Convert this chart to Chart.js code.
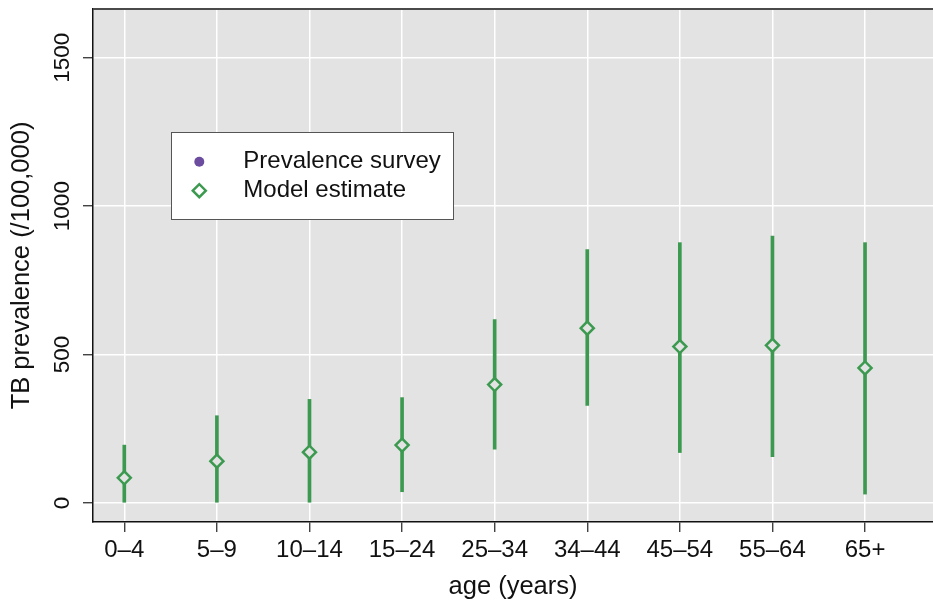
<!DOCTYPE html>
<html>
<head>
<meta charset="utf-8">
<script src="https://cdn.jsdelivr.net/npm/chart.js@4/dist/chart.umd.min.js"></script>
<style>
  html, body { margin: 0; padding: 0; background: #ffffff; }
  canvas { display: block; }
</style>
</head>
<body>
<canvas id="c" width="933" height="606"></canvas>
<script>
// Age groups and model estimates of TB prevalence per 100,000, with uncertainty bounds
const ageGroups = ['0–4', '5–9', '10–14', '15–24', '25–34', '34–44', '45–54', '55–64', '65+'];
const modelEstimate = [85, 141, 171, 195, 399, 589, 527, 531, 455];
const lowerBound = [0, 0, 0, 38, 181, 329, 170, 156, 30];
const upperBound = [195, 294, 349, 355, 618, 854, 877, 899, 877];
const surveyPrevalence = []; // survey points (none plotted for these groups)
const yTickValues = [0, 500, 1000, 1500];

const GREEN = '#3c9a50';
const PURPLE = '#6b4c9f';
const PANEL = '#e3e3e3';
const INK = '#111111';

Chart.defaults.font.family = "'Liberation Sans', Arial, Helvetica, sans-serif";

// grey panel behind the grid, plus the thin frame line along the top
const panel = {
  id: 'panel',
  beforeDraw(chart) {
    const { ctx, chartArea: a } = chart;
    ctx.save();
    ctx.fillStyle = '#ffffff';
    ctx.fillRect(0, 0, chart.width, chart.height);
    ctx.fillStyle = PANEL;
    ctx.fillRect(a.left, a.top, a.right - a.left, a.bottom - a.top);
    ctx.restore();
  },
  afterDraw(chart) {
    const { ctx, chartArea: a } = chart;
    ctx.save();
    ctx.fillStyle = '#4a4a4a';
    ctx.fillRect(a.left, a.top - 1, a.right - a.left, 2);
    ctx.restore();
  }
};

// boxed legend inside the panel, built from the dataset labels and styles
const legendBox = {
  id: 'legendBox',
  afterDatasetsDraw(chart) {
    const ctx = chart.ctx;
    const x0 = 171, y0 = 132, w = 282, h = 87;
    ctx.save();
    ctx.fillStyle = '#ffffff';
    ctx.fillRect(x0, y0, w, h);
    ctx.strokeStyle = '#555555';
    ctx.lineWidth = 1;
    ctx.strokeRect(x0 + 0.5, y0 + 0.5, w, h);
    const entries = chart.data.datasets.filter(d => d.showInLegend);
    entries.forEach((d, i) => {
      const cy = 161.7 + i * 29;
      ctx.save();
      ctx.fillStyle = d.legendFill || d.backgroundColor;
      ctx.strokeStyle = d.borderColor;
      ctx.lineWidth = d.borderWidth || 0;
      Chart.helpers.drawPoint(ctx, {
        pointStyle: d.pointStyle,
        radius: d.legendRadius,
        borderWidth: d.borderWidth || 0
      }, 199.3, cy);
      ctx.restore();
      ctx.fillStyle = INK;
      ctx.font = "24px 'Liberation Sans', Arial, Helvetica, sans-serif";
      ctx.textAlign = 'left';
      ctx.textBaseline = 'middle';
      ctx.fillText(d.label, 243.3, cy);
    });
    ctx.restore();
  }
};

new Chart(document.getElementById('c'), {
  type: 'scatter',
  data: {
    datasets: [
      {
        type: 'scatter',
        label: 'Prevalence survey',
        showInLegend: true,
        data: surveyPrevalence,
        pointStyle: 'circle',
        radius: 5,
        legendRadius: 5,
        backgroundColor: PURPLE,
        borderColor: PURPLE,
        borderWidth: 0,
        order: 0
      },
      {
        type: 'scatter',
        label: 'Model estimate',
        showInLegend: true,
        data: ageGroups.map((g, i) => ({ x: i + 1, y: modelEstimate[i] })),
        pointStyle: 'rectRot',
        radius: 6.5,
        legendRadius: 6.5,
        hoverRadius: 6.5,
        borderWidth: 2.5,
        borderColor: GREEN,
        backgroundColor: PANEL,
        legendFill: '#ffffff',
        order: 1
      },
      {
        type: 'bar',
        label: 'Model range',
        data: ageGroups.map((g, i) => ({ x: i + 1, y: [lowerBound[i], upperBound[i]] })),
        backgroundColor: GREEN,
        borderWidth: 0,
        barThickness: 3,
        order: 2
      }
    ]
  },
  options: {
    responsive: false,
    animation: false,
    devicePixelRatio: 1,
    layout: { autoPadding: false, padding: { top: 9, left: 0, right: 0, bottom: 0 } },
    plugins: {
      legend: { display: false },
      tooltip: { enabled: false }
    },
    scales: {
      x: {
        type: 'linear',
        min: 0.662,
        max: 9.734,
        offset: false,
        afterBuildTicks: s => { s.ticks = ageGroups.map((g, i) => ({ value: i + 1 })); },
        afterFit: s => { s.height = 84; },
        ticks: {
          callback: v => ageGroups[Math.round(v) - 1],
          font: { size: 24 },
          color: INK,
          padding: 4,
          autoSkip: false,
          minRotation: 0,
          maxRotation: 0
        },
        grid: { offset: false, color: '#ffffff', lineWidth: 1.5, tickLength: 10, tickColor: '#222222', tickWidth: 1.2 },
        border: { color: INK, width: 1.5 },
        title: {
          display: true,
          text: 'age (years)',
          font: { size: 25.5 },
          color: INK,
          padding: { top: 0, bottom: 3.7 }
        }
      },
      y: {
        type: 'linear',
        min: -64,
        max: 1664,
        afterBuildTicks: s => { s.ticks = yTickValues.map(v => ({ value: v })); },
        afterFit: s => { s.width = 93; },
        ticks: {
          callback: v => String(v),
          font: { size: 22.5 },
          color: INK,
          minRotation: 90,
          maxRotation: 90,
          crossAlign: 'center',
          padding: -4.5,
          autoSkip: false
        },
        grid: { color: '#ffffff', lineWidth: 1.5, tickLength: 10, tickColor: '#222222', tickWidth: 1.2 },
        border: { color: INK, width: 1.5 },
        title: {
          display: true,
          text: 'TB prevalence (/100,000)',
          font: { size: 25.5 },
          color: INK,
          padding: { top: 6.7, bottom: 0 }
        }
      }
    }
  },
  plugins: [panel, legendBox]
});
</script>
</body>
</html>
